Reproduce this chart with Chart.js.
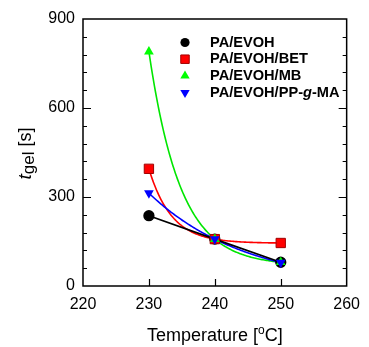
<!DOCTYPE html>
<html><head><meta charset="utf-8">
<script src="https://cdn.jsdelivr.net/npm/chart.js@4/dist/chart.umd.min.js"></script>
<style>html,body{margin:0;padding:0;background:#fff}</style>
</head><body>
<canvas id="c" width="369" height="347"></canvas>
<script>
const temperatures = [230, 240, 250];
const seriesNames = ['PA/EVOH', 'PA/EVOH/BET', 'PA/EVOH/MB', 'PA/EVOH/PP-g-MA'];
const paEvoh = [237, 158, 80];
const paEvohBet = [395, 158, 145];
const paEvohMb = [790, 158, 80];
const paEvohPpgma = [313, 158, 79];
const xTicks = [220, 230, 240, 250, 260];
const yTicks = [0, 300, 600, 900];

const FONT = '"Liberation Sans", Arial, sans-serif';
const pts = arr => temperatures.map((t, i) => ({x: t, y: arr[i]}));

const datasets = [
  {label: seriesNames[0], data: pts(paEvoh), showLine: true, borderColor: '#000', backgroundColor: '#000',
   borderWidth: 1.7, pointStyle: 'circle', pointRadius: 4.8, pointBorderColor: '#000', pointBackgroundColor: '#000', order: 3},
  {label: seriesNames[1], data: pts(paEvohBet), showLine: false, fit: true, fitColor: '#ff0000',
   pointStyle: 'rect', pointRadius: 6.6, pointBorderColor: '#a00000', pointBackgroundColor: '#ff0000', pointBorderWidth: 1, order: 2},
  {label: seriesNames[2], data: pts(paEvohMb), showLine: false, fit: true, fitColor: '#00e600',
   pointStyle: 'triangle', pointRadius: 5.6, pointBorderColor: '#00ff00', pointBackgroundColor: '#00ff00', pointBorderWidth: 0, order: 1},
  {label: seriesNames[3], data: pts(paEvohPpgma), showLine: false, fit: true, fitColor: '#0000ff',
   pointStyle: 'triangle', pointRotation: 180, pointRadius: 5.6, pointBorderColor: '#0000ff', pointBackgroundColor: '#0000ff', pointBorderWidth: 0, order: 0}
];

// Exponential-decay trend through the three points of a series (like the original fit curves)
const fitPlugin = {
  id: 'fitCurves',
  beforeDatasetsDraw(chart) {
    const {ctx, scales: {x, y}} = chart;
    chart.data.datasets.forEach(ds => {
      if (!ds.fit) return;
      const d = ds.data;
      const x0 = d[0].x, h = d[1].x - d[0].x;
      const r = (d[2].y - d[1].y) / (d[1].y - d[0].y);
      const A = (d[1].y - d[0].y) / (r - 1);
      const c = d[0].y - A;
      ctx.save();
      ctx.beginPath();
      const N = 120;
      for (let i = 0; i <= N; i++) {
        const xv = d[0].x + (d[2].x - d[0].x) * i / N;
        const yv = c + A * Math.pow(r, (xv - x0) / h);
        const px = x.getPixelForValue(xv), py = y.getPixelForValue(yv);
        if (i === 0) ctx.moveTo(px, py); else ctx.lineTo(px, py);
      }
      ctx.strokeStyle = ds.fitColor;
      ctx.lineWidth = 1.6;
      ctx.stroke();
      ctx.restore();
    });
  }
};

const framePlugin = {
  id: 'frame',
  afterDraw(chart) {
    const {ctx, chartArea: a, scales: {x, y}} = chart;
    ctx.save();
    ctx.strokeStyle = '#000';
    ctx.lineWidth = 1.5;
    ctx.strokeRect(a.left, a.top, a.right - a.left, a.bottom - a.top);
    ctx.lineWidth = 1.2;
    ctx.beginPath();
    xTicks.forEach(v => {
      if (v === x.min || v === x.max) return;
      const px = Math.round(x.getPixelForValue(v)) + 0.5;
      ctx.moveTo(px, a.bottom); ctx.lineTo(px, a.bottom - 7);
    });
    for (let v = y.min; v <= y.max + 1e-6; v += 60) {
      const py = Math.round(y.getPixelForValue(v)) + 0.5;
      const major = yTicks.includes(v);
      if (v === y.min || v === y.max) continue;
      const len = major ? 8 : 4;
      ctx.moveTo(a.left, py); ctx.lineTo(a.left + len, py);
      ctx.moveTo(a.right, py); ctx.lineTo(a.right - len, py);
    }
    ctx.stroke();

    ctx.fillStyle = '#000';
    ctx.textBaseline = 'alphabetic';
    const f1 = '18px ' + FONT, fsup = '12px ' + FONT;
    ctx.font = f1;
    const p1 = 'Temperature [', p3 = 'C]';
    const w1 = ctx.measureText(p1).width, w3 = ctx.measureText(p3).width;
    ctx.font = fsup; const w2 = ctx.measureText('o').width;
    const total = w1 + w2 + w3;
    let sx = (a.left + a.right) / 2 - total / 2;
    const by = 341;
    ctx.font = f1; ctx.fillText(p1, sx, by);
    ctx.font = fsup; ctx.fillText('o', sx + w1, by - 7);
    ctx.font = f1; ctx.fillText(p3, sx + w1 + w2, by);

    ctx.save();
    ctx.translate(31, (a.top + a.bottom) / 2 + 1);
    ctx.rotate(-Math.PI / 2);
    const ft = 'italic 19px ' + FONT, fg = '17px ' + FONT;
    ctx.font = ft; const wt = ctx.measureText('t').width;
    ctx.font = fg; const wg = ctx.measureText('gel').width;
    ctx.font = f1; const ws = ctx.measureText(' [s]').width;
    let tx = -(wt + wg + ws) / 2;
    ctx.font = ft; ctx.fillText('t', tx, 0);
    ctx.font = fg; ctx.fillText('gel', tx + wt, 3);
    ctx.font = f1; ctx.fillText(' [s]', tx + wt + wg, 0);
    ctx.restore();

    const lx = 185, ly0 = 42.5, dy = 16.7, tx0 = 210;
    chart.data.datasets.forEach((ds, i) => {
      const yy = ly0 + i * dy;
      ctx.save();
      ctx.fillStyle = ds.pointBackgroundColor;
      ctx.strokeStyle = ds.pointBorderColor;
      ctx.lineWidth = ds.pointBorderWidth || 0;
      Chart.helpers.drawPoint(ctx, {pointStyle: ds.pointStyle, radius: ds.pointStyle === 'rect' ? 6 : (ds.pointStyle === 'circle' ? 4.6 : 5.4),
        rotation: ds.pointRotation || 0, borderWidth: ds.pointBorderWidth || 0}, lx, yy);
      ctx.restore();
      ctx.fillStyle = '#000';
      ctx.textBaseline = 'middle';
      const name = ds.label;
      const fb = 'bold 14.6px ' + FONT, fbi = 'bold italic 14.6px ' + FONT;
      if (name.indexOf('-g-') >= 0) {
        const parts = name.split('-g-');
        let cx = tx0;
        ctx.font = fb; ctx.fillText(parts[0] + '-', cx, yy); cx += ctx.measureText(parts[0] + '-').width;
        ctx.font = fbi; ctx.fillText('g', cx, yy); cx += ctx.measureText('g').width;
        ctx.font = fb; ctx.fillText('-' + parts[1], cx, yy);
      } else {
        ctx.font = fb; ctx.fillText(name, tx0, yy);
      }
    });
    ctx.restore();
  }
};

new Chart(document.getElementById('c'), {
  type: 'scatter',
  data: {datasets},
  options: {
    responsive: false,
    animation: false,
    devicePixelRatio: 1,
    layout: {padding: {left: 0, top: 19, right: 17, bottom: 0}},
    plugins: {legend: {display: false}, tooltip: {enabled: false}},
    scales: {
      x: {
        type: 'linear', min: 220, max: 260,
        afterFit(s) { s.height = 61; },
        afterBuildTicks(s) { s.ticks = xTicks.map(v => ({value: v})); },
        grid: {display: false, drawTicks: false},
        border: {display: false},
        ticks: {padding: 9, color: '#000', font: {family: FONT, size: 16}, maxRotation: 0}
      },
      y: {
        type: 'linear', min: 0, max: 900,
        afterFit(s) { s.width = 83; },
        afterBuildTicks(s) { s.ticks = yTicks.map(v => ({value: v})); },
        grid: {display: false, drawTicks: false},
        border: {display: false},
        ticks: {padding: 8, color: '#000', font: {family: FONT, size: 16}}
      }
    }
  },
  plugins: [fitPlugin, framePlugin]
});
</script>
</body></html>
